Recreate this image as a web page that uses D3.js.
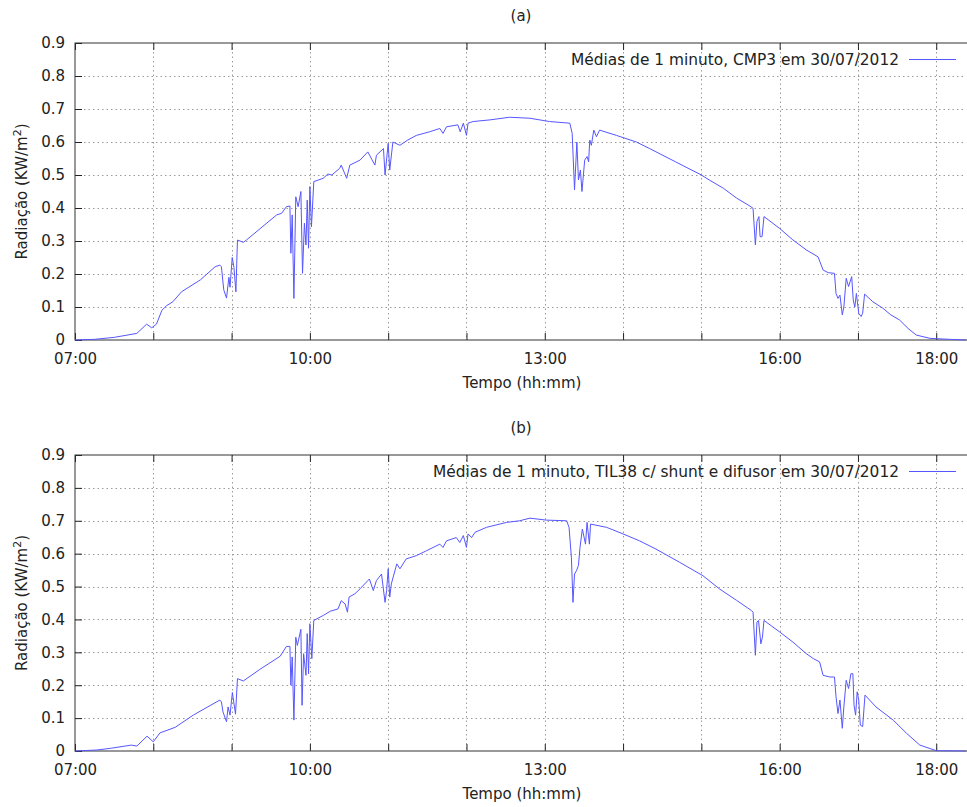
<!DOCTYPE html>
<html lang="pt">
<head>
  <meta charset="UTF-8">
  <title>Radiação 30/07/2012</title>
  <style>
    body {
      margin: 0;
      background: #fff;
    }

    svg {
      display: block;
      font-family: "DejaVu Sans", sans-serif;
    }

    .grid line {
      stroke: #9a9a9a;
      stroke-width: 1;
      stroke-dasharray: 1.5, 3;
    }

    .axis text {
      font-family: "DejaVu Sans", sans-serif;
      font-size: 15px;
      fill: #222;
    }

    .axis line {
      stroke: #222;
    }

    .series {
      fill: none;
      stroke: #5656ff;
      stroke-width: 1;
    }
  </style>
</head>
<body>
  <svg id="chart" width="967" height="807"></svg>

  <script src="https://d3js.org/d3.v7.min.js"></script>
  <script>
    // hora decimal (07:00 = 7) e radiação em KW/m2
    const timesA = [7.0, 7.25, 7.5, 7.79, 7.915, 7.98, 8.04, 8.11, 8.17, 8.25, 8.36, 8.6, 8.79, 8.85, 8.87,
      8.90, 8.935, 8.966, 8.98, 9.008, 9.03, 9.055, 9.075, 9.15, 9.19, 9.575, 9.64, 9.70, 9.745, 9.757,
      9.774, 9.796, 9.82, 9.85, 9.885, 9.906, 9.93, 9.95, 9.966, 9.983, 10.0, 10.02, 10.05, 10.17, 10.23,
      10.28, 10.38, 10.40, 10.47, 10.51, 10.64, 10.74, 10.83, 10.85, 10.94, 10.96, 11.0, 11.02, 11.06,
      11.15, 11.25, 11.36, 11.53, 11.66, 11.70, 11.745, 11.89, 11.92, 11.96, 12.0, 12.02, 12.085, 12.30,
      12.55, 12.81, 13.06, 13.32, 13.35, 13.38, 13.41, 13.43, 13.455, 13.475, 13.51, 13.54, 13.56, 13.575,
      13.595, 13.626, 13.66, 13.70, 13.915, 14.17, 14.34, 14.67, 15.0, 15.10, 15.28, 15.45, 15.62, 15.66,
      15.69, 15.71, 15.735, 15.75, 15.775, 15.80, 16.0, 16.17, 16.34, 16.49, 16.555, 16.62, 16.70, 16.72,
      16.745, 16.77, 16.80, 16.82, 16.85, 16.88, 16.92, 16.94, 16.96, 16.98, 17.01, 17.04, 17.06, 17.085,
      17.19, 17.32, 17.42, 17.53, 17.64, 17.745, 17.92, 18.17, 18.38];
    const valuesA = [0, 0.002, 0.008, 0.02, 0.048, 0.037, 0.048, 0.09, 0.104, 0.116, 0.146, 0.182, 0.222, 0.227, 0.222,
      0.152, 0.127, 0.19, 0.16, 0.25, 0.22, 0.146, 0.303, 0.296, 0.303, 0.379, 0.384, 0.404, 0.406, 0.263,
      0.379, 0.126, 0.434, 0.404, 0.45, 0.202, 0.354, 0.288, 0.424, 0.278, 0.465, 0.343, 0.48, 0.49, 0.503,
      0.50, 0.52, 0.53, 0.49, 0.53, 0.545, 0.57, 0.53, 0.56, 0.58, 0.50, 0.596, 0.515, 0.60,
      0.59, 0.606, 0.62, 0.631, 0.641, 0.626, 0.646, 0.652, 0.631, 0.657, 0.62, 0.657, 0.662, 0.667,
      0.675, 0.672, 0.662, 0.657, 0.626, 0.455, 0.60, 0.485, 0.515, 0.45, 0.545, 0.556, 0.54, 0.606,
      0.59, 0.636, 0.616, 0.636, 0.62, 0.60, 0.58, 0.54, 0.50, 0.485, 0.46, 0.43, 0.406, 0.399,
      0.288, 0.359, 0.374, 0.313, 0.313, 0.374, 0.338, 0.303, 0.273, 0.252, 0.212, 0.204, 0.202, 0.141,
      0.126, 0.136, 0.076, 0.10, 0.187, 0.162, 0.192, 0.121, 0.10, 0.141, 0.081, 0.071, 0.081, 0.139,
      0.116, 0.096, 0.076, 0.061, 0.035, 0.015, 0.005, 0.002, 0];

    const timesB = [7.0, 7.28, 7.45, 7.72, 7.79, 7.92, 8.0, 8.085, 8.28, 8.51, 8.85, 8.87, 8.89, 8.935, 8.955,
      8.98, 9.01, 9.05, 9.075, 9.15, 9.36, 9.62, 9.70, 9.745, 9.757, 9.774, 9.796, 9.82, 9.84, 9.885,
      9.90, 9.92, 9.95, 9.966, 9.983, 10.0, 10.025, 10.05, 10.17, 10.26, 10.36, 10.40, 10.45, 10.48, 10.50,
      10.575, 10.64, 10.74, 10.76, 10.81, 10.85, 10.915, 10.96, 10.98, 11.0, 11.02, 11.04, 11.11, 11.15,
      11.23, 11.36, 11.49, 11.66, 11.70, 11.745, 11.87, 11.915, 11.96, 12.0, 12.02, 12.065, 12.11, 12.255,
      12.51, 12.68, 12.81, 13.02, 13.28, 13.31, 13.34, 13.36, 13.38, 13.405, 13.43, 13.45, 13.48, 13.52,
      13.54, 13.57, 13.585, 13.79, 14.0, 14.21, 14.42, 14.72, 15.02, 15.23, 15.45, 15.64, 15.66, 15.69,
      15.71, 15.73, 15.76, 15.78, 15.80, 16.0, 16.17, 16.34, 16.43, 16.51, 16.555, 16.64, 16.70, 16.72,
      16.745, 16.77, 16.80, 16.82, 16.85, 16.88, 16.91, 16.935, 16.95, 16.97, 16.99, 17.01, 17.03, 17.06,
      17.09, 17.23, 17.45, 17.62, 17.79, 18.0, 18.38];
    const valuesB = [0, 0.003, 0.008, 0.018, 0.015, 0.045, 0.028, 0.055, 0.072, 0.109, 0.155, 0.149, 0.119, 0.089, 0.134,
      0.109, 0.178, 0.112, 0.22, 0.213, 0.248, 0.288, 0.318, 0.318, 0.20, 0.286, 0.094, 0.346, 0.321, 0.37,
      0.139, 0.296, 0.23, 0.357, 0.235, 0.387, 0.281, 0.397, 0.412, 0.425, 0.432, 0.457, 0.447, 0.422, 0.468,
      0.478, 0.493, 0.518, 0.523, 0.488, 0.518, 0.538, 0.452, 0.488, 0.554, 0.468, 0.508, 0.569, 0.554,
      0.584, 0.594, 0.609, 0.629, 0.619, 0.639, 0.649, 0.634, 0.655, 0.619, 0.66, 0.649, 0.665, 0.68,
      0.695, 0.70, 0.708, 0.702, 0.70, 0.68, 0.589, 0.452, 0.538, 0.548, 0.564, 0.619, 0.675, 0.629,
      0.695, 0.629, 0.69, 0.68, 0.66, 0.639, 0.614, 0.574, 0.533, 0.493, 0.458, 0.427, 0.422, 0.291,
      0.392, 0.397, 0.326, 0.346, 0.397, 0.362, 0.331, 0.296, 0.281, 0.271, 0.23, 0.225, 0.225, 0.165,
      0.114, 0.155, 0.069, 0.134, 0.215, 0.19, 0.235, 0.235, 0.139, 0.109, 0.18, 0.155, 0.079, 0.074,
      0.17, 0.134, 0.094, 0.054, 0.018, 0.001, 0];

    const hourTicks = [7, 8, 9, 10, 11, 12, 13, 14, 15, 16, 17, 18];
    const labelHours = [7, 10, 13, 16, 18];
    const labelTexts = ["07:00", "10:00", "13:00", "16:00", "18:00"];
    const yTicks = [0, 0.1, 0.2, 0.3, 0.4, 0.5, 0.6, 0.7, 0.8, 0.9];
    const yTickLabels = ["0", "0.1", "0.2", "0.3", "0.4", "0.5", "0.6", "0.7", "0.8", "0.9"];
    const timeDomain = [7, 18.38];

    const panels = [
      { title: "(a)", top: 43, bottom: 340, times: timesA, values: valuesA,
        legend: "Médias de 1 minuto, CMP3 em 30/07/2012" },
      { title: "(b)", top: 455, bottom: 751, times: timesB, values: valuesB,
        legend: "Médias de 1 minuto, TIL38 c/ shunt e difusor em 30/07/2012" }
    ];

    const left = 75, right = 966;
    const fontSize = 15;
    const svg = d3.select("#chart");

    const x = d3.scaleLinear().domain(timeDomain).range([left, right]);

    panels.forEach(p => {
      const y = d3.scaleLinear().domain([0, 0.9]).range([p.bottom, p.top]);
      const g = svg.append("g");

      // grade pontilhada
      const grid = g.append("g").attr("class", "grid");
      grid.selectAll(".v")
        .data(hourTicks.filter(h => h > 7))
        .enter().append("line")
        .attr("x1", d => Math.round(x(d)) + 0.5).attr("x2", d => Math.round(x(d)) + 0.5)
        .attr("y1", p.top).attr("y2", p.bottom);
      grid.selectAll(".h")
        .data(yTicks.filter(v => v > 0 && v < 0.9))
        .enter().append("line")
        .attr("x1", left).attr("x2", right)
        .attr("y1", d => Math.round(y(d)) + 0.5).attr("y2", d => Math.round(y(d)) + 0.5);

      // eixos com marcas para dentro (estilo gnuplot)
      const fmtX = d => {
        const i = labelHours.indexOf(d);
        return i >= 0 ? labelTexts[i] : "";
      };
      const gx = g.append("g").attr("class", "axis")
        .attr("transform", `translate(0,${p.bottom})`)
        .call(d3.axisBottom(x).tickValues(hourTicks).tickFormat(fmtX).tickSize(-7).tickPadding(13));
      const gxt = g.append("g").attr("class", "axis")
        .attr("transform", `translate(0,${p.top})`)
        .call(d3.axisTop(x).tickValues(hourTicks).tickFormat("").tickSize(-7));
      const gy = g.append("g").attr("class", "axis")
        .attr("transform", `translate(${left},0)`)
        .call(d3.axisLeft(y).tickValues(yTicks)
          .tickFormat((d, i) => yTickLabels[i]).tickSize(-7).tickPadding(10));
      [gx, gxt, gy].forEach(a => {
        a.attr("font-size", null).attr("font-family", null);
        a.select(".domain").remove();
      });
      gx.selectAll("text").attr("dy", "0.72em");

      // moldura
      g.append("rect")
        .attr("x", left).attr("y", p.top)
        .attr("width", right - left + 4).attr("height", p.bottom - p.top)
        .attr("fill", "none").attr("stroke", "#333").attr("stroke-width", 1);

      // série
      const pts = p.times.map((t, i) => [t, p.values[i]]);
      g.append("path")
        .datum(pts)
        .attr("class", "series")
        .attr("d", d3.line().x(d => x(d[0])).y(d => y(d[1])));

      // legenda
      const ly = p.top + 16;
      g.append("text")
        .attr("x", 899).attr("y", ly)
        .attr("dy", "0.36em")
        .attr("text-anchor", "end")
        .attr("font-size", 15.4)
        .attr("fill", "#222")
        .text(p.legend);
      g.append("line")
        .attr("class", "series")
        .attr("x1", 909).attr("x2", 956)
        .attr("y1", ly + 0.5).attr("y2", ly + 0.5);

      // títulos
      g.append("text")
        .attr("x", 521).attr("y", p.top - 22)
        .attr("text-anchor", "middle")
        .attr("font-size", fontSize).attr("fill", "#222")
        .text(p.title);
      g.append("text")
        .attr("x", 522).attr("y", p.bottom + 48)
        .attr("text-anchor", "middle")
        .attr("font-size", fontSize).attr("fill", "#222")
        .text("Tempo (hh:mm)");

      const yl = g.append("text")
        .attr("transform", `translate(27,${(p.top + p.bottom) / 2}) rotate(-90)`)
        .attr("text-anchor", "middle")
        .attr("font-size", fontSize).attr("fill", "#222");
      yl.append("tspan").text("Radiação (KW/m");
      yl.append("tspan").attr("font-size", 11).attr("dy", -6).text("2");
      yl.append("tspan").attr("dy", 6).text(")");
    });
  </script>
</body>
</html>
